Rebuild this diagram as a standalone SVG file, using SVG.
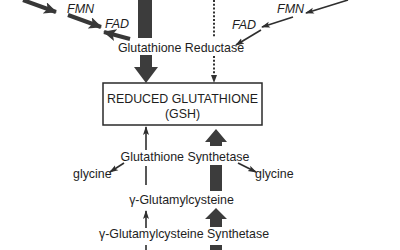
<svg xmlns="http://www.w3.org/2000/svg" width="400" height="250" viewBox="0 0 400 250">
<style>
text{font-family:"Liberation Sans",Arial,sans-serif;fill:#1e1e1e;font-size:12.4px}
.it{font-style:italic;font-size:12.5px}
.thick{fill:#3c3c3c}
.tl{stroke:#2e2e2e;stroke-width:1.6;fill:none}
.tk{stroke:#383838;stroke-width:4;fill:none}
.dot{stroke:#333;stroke-width:2;stroke-dasharray:2 1.8;fill:none}
</style>
<defs>
<marker id="hThin" markerUnits="userSpaceOnUse" markerWidth="10" markerHeight="8" refX="8" refY="4" orient="auto"><path d="M0,1 L9,4 L0,7 L2,4 Z" fill="#2e2e2e"/></marker>
<marker id="hThick" markerUnits="userSpaceOnUse" markerWidth="14" markerHeight="12" refX="12" refY="6" orient="auto"><path d="M0,0 L13,6 L0,12 L3,6 Z" fill="#383838"/></marker>
</defs>
<rect width="400" height="250" fill="#fff"/>
<g id="connectors">
<line class="tk" x1="23" y1="0" x2="56" y2="12" marker-end="url(#hThick)"/>
<line class="tk" x1="68" y1="15" x2="101" y2="27" marker-end="url(#hThick)"/>
<line class="tk" x1="130" y1="39" x2="104" y2="32" marker-end="url(#hThick)"/>
<line class="tl" x1="348" y1="0" x2="306" y2="13" marker-end="url(#hThin)"/>
<line class="tl" x1="293" y1="17" x2="262" y2="27" marker-end="url(#hThin)"/>
<line class="tl" x1="261" y1="30" x2="236" y2="45" marker-end="url(#hThin)"/>
<rect class="thick" x="138" y="0" width="14" height="38"/>
<polygon class="thick" points="140,55 152,55 152,67 158,67 146,83 134,67 140,67"/>
<line class="dot" x1="214" y1="0" x2="214" y2="38"/>
<line class="dot" x1="214" y1="56" x2="214" y2="76"/>
<path d="M211,75 L217,75 L214,83 Z" fill="#333"/>
<line class="tl" x1="146" y1="150" x2="146" y2="127" marker-end="url(#hThin)"/>
<polygon class="thick" points="210,146 222,146 222,142 227,142 216,129 205,142 210,142"/>
<line class="tl" x1="124" y1="163" x2="110" y2="172" marker-end="url(#hThin)"/>
<line class="tl" x1="238" y1="163" x2="256" y2="172" marker-end="url(#hThin)"/>
<line class="tl" x1="146" y1="166" x2="146" y2="185"/>
<rect class="thick" x="210" y="165" width="12" height="26"/>
<line class="tl" x1="146" y1="228" x2="146" y2="211" marker-end="url(#hThin)"/>
<polygon class="thick" points="210,227 222,227 222,219 227,219 216,208 205,219 210,219"/>
<line class="tl" x1="146" y1="245" x2="146" y2="250"/>
<rect class="thick" x="210" y="245" width="12" height="5"/>
</g>
<g id="fmn-left"><text class="it" x="67" y="13">FMN</text></g>
<g id="fad-left"><text class="it" x="105" y="28">FAD</text></g>
<g id="fmn-right"><text class="it" x="277" y="13">FMN</text></g>
<g id="fad-right"><text class="it" x="232" y="29">FAD</text></g>
<g id="glutathione-reductase"><text x="181" y="52" text-anchor="middle">Glutathione Reductase</text></g>
<g id="gsh">
<rect x="103" y="83" width="159" height="42" fill="#fff" stroke="#2a2a2a" stroke-width="1.5"/>
<text x="182.5" y="103" text-anchor="middle">REDUCED GLUTATHIONE</text>
<text x="182.5" y="118" text-anchor="middle">(GSH)</text>
</g>
<g id="glutathione-synthetase"><text x="185" y="161" text-anchor="middle">Glutathione Synthetase</text></g>
<g id="glycine-left"><text x="73" y="178">glycine</text></g>
<g id="glycine-right"><text x="255" y="178">glycine</text></g>
<g id="gamma-glutamylcysteine"><text x="181.5" y="204" text-anchor="middle">γ-Glutamylcysteine</text></g>
<g id="gamma-glutamylcysteine-synthetase"><text x="184" y="238" text-anchor="middle">γ-Glutamylcysteine Synthetase</text></g>
</svg>
